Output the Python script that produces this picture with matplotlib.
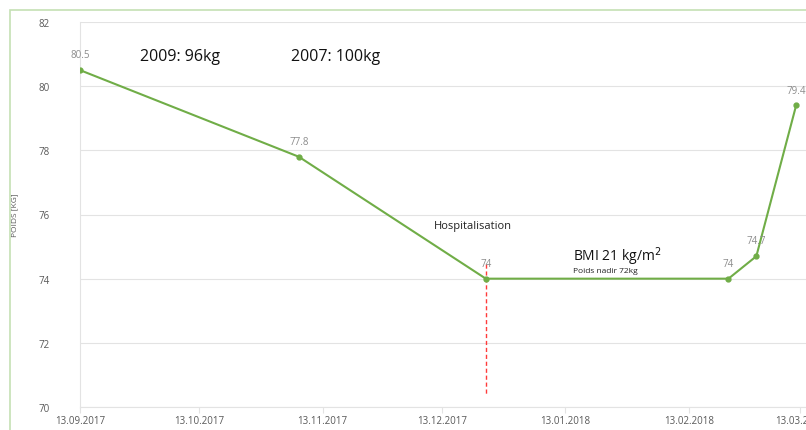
import datetime as dt
import matplotlib
matplotlib.use("Agg")
import matplotlib.pyplot as plt
from matplotlib.patches import Rectangle

plt.rcParams['font.family'] = ['Open Sans', 'DejaVu Sans']

# données
dates = ["2017-09-13", "2017-11-07", "2017-12-24", "2018-02-23", "2018-03-02", "2018-03-12"]
poids = [80.5, 77.8, 74.0, 74.0, 74.7, 79.4]
etiquettes = ["80.5", "77.8", "74", "74", "74.7", "79.4"]
tick_dates = ["2017-09-13", "2017-10-13", "2017-11-13", "2017-12-13", "2018-01-13", "2018-02-13", "2018-03-13"]
tick_labels = ["13.09.2017", "13.10.2017", "13.11.2017", "13.12.2017", "13.01.2018", "13.02.2018", "13.03.2018"]
hospi_date = "2017-12-24"

def d(s):
    return dt.datetime.strptime(s, "%Y-%m-%d")

x = [d(s) for s in dates]
green = "#70ad47"
grey = "#595959"

fig = plt.figure(figsize=(8.06, 4.31), dpi=100)
fig.patch.set_facecolor("white")
# cadre du graphique (coupé à droite et en bas)
fig.add_artist(Rectangle((10 / 806, -0.1), 2, 1.1 - 11 / 431, transform=fig.transFigure,
                         fill=False, edgecolor="#c5e0b4", lw=1.2))

ax = fig.add_axes([80 / 806, 23 / 431, 740 / 806, 385 / 431])
ax.plot(x, poids, color=green, lw=1.5, marker="o", ms=3.5, zorder=3)
for xi, yi, lab in zip(x, poids, etiquettes):
    ax.annotate(lab, (xi, yi), xytext=(0, 7), textcoords="offset points",
                ha="center", va="bottom", fontsize=7, color="#8c8c8c")

ax.plot([d(hospi_date), d(hospi_date)], [74.45, 70.4], color="#ff3b3b", lw=1, ls=(0, (3, 2)))

ax.set_ylim(70, 82)
ax.set_yticks([70, 72, 74, 76, 78, 80, 82])
ax.set_xlim(d("2017-09-13"), d("2017-09-13") + dt.timedelta(days=186))
ax.set_xticks([d(s) for s in tick_dates])
ax.set_xticklabels(tick_labels)
ax.grid(axis="y", color="#e3e3e3", lw=0.8)
ax.set_axisbelow(True)
for s in ["top", "right"]:
    ax.spines[s].set_visible(False)
ax.spines["left"].set_color("#e3e3e3")
ax.spines["bottom"].set_color("#e3e3e3")
ax.tick_params(axis="y", length=0, labelsize=7, labelcolor=grey, pad=22)
ax.tick_params(axis="x", length=4, color="#e3e3e3", labelsize=7, labelcolor=grey, pad=2)
ax.set_ylabel("POIDS [KG]", fontsize=6, color=grey, labelpad=14)

ax.text(d("2017-09-28"), 80.95, "2009: 96kg", fontsize=11.5, color="#111111", va="center")
ax.text(d("2017-11-05"), 80.95, "2007: 100kg", fontsize=11.5, color="#111111", va="center")
ax.text(d("2017-12-11"), 75.65, "Hospitalisation", fontsize=8, color="#222222", va="center")
ax.text(d("2018-01-15"), 74.72, "BMI 21 kg/m$^2$", fontsize=10, color="#111111", va="center")
ax.text(d("2018-01-15"), 74.25, "Poids nadir 72kg", fontsize=6, color="#222222", va="center")

fig.savefig("out.png", dpi=100)
